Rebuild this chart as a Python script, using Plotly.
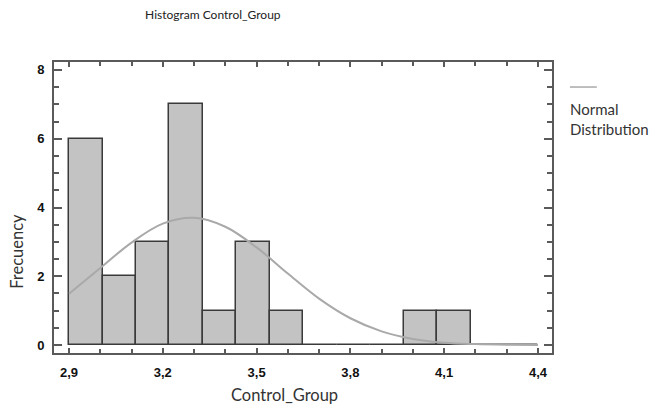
import plotly.graph_objects as go

# ---- data ----
bin_start = 2.9
bin_end = 4.4
n_bins = 14
counts = [6, 2, 3, 7, 1, 3, 1, 0, 0, 0, 1, 1, 0, 0]

curve_x = [2.9, 3.0, 3.1, 3.2, 3.3, 3.4, 3.5, 3.6, 3.7, 3.8, 3.9, 4.0, 4.1, 4.2, 4.3, 4.4]
curve_y = [1.49, 2.24, 2.98, 3.53, 3.70, 3.44, 2.84, 2.08, 1.35, 0.78, 0.40, 0.18, 0.07, 0.03, 0.01, 0.0]

x_tickvals = [2.9, 3.2, 3.5, 3.8, 4.1, 4.4]
x_ticktext = ["2,9", "3,2", "3,5", "3,8", "4,1", "4,4"]
y_tickvals = [0, 2, 4, 6, 8]
y_ticktext = ["0", "2", "4", "6", "8"]

bin_w = (bin_end - bin_start) / n_bins
left_edges = [bin_start + i * bin_w for i in range(n_bins)]

fig = go.Figure()
fig.add_trace(go.Bar(
    x=left_edges, y=counts, width=bin_w, offset=0,
    marker=dict(color="#c3c3c3", line=dict(color="#3a3a3a", width=1.5)),
    showlegend=False,
))
fig.add_trace(go.Scatter(
    x=curve_x, y=curve_y, mode="lines",
    line=dict(color="#a9a9a9", width=2, shape="spline"),
    showlegend=False,
))

tickfont = dict(family="Liberation Sans Narrow, Arial Narrow, Arial", size=13, color="#111", weight="bold")
axis_common = dict(
    showgrid=False, zeroline=False, showline=True, linecolor="#5a5a5a", linewidth=2,
    mirror="allticks", ticks="inside", tickcolor="#5a5a5a", tickwidth=1.5,
    tickfont=tickfont, tickmode="array",
)

fig.update_xaxes(
    range=[2.852, 4.445], tickvals=x_tickvals, ticktext=x_ticktext, ticklen=5,
    ticklabelstandoff=6,
    minor=dict(ticks="inside", ticklen=4, tickcolor="#5a5a5a", tick0=2.9, dtick=0.1),
    **axis_common,
)
fig.update_yaxes(
    range=[-0.23, 8.23], tickvals=y_tickvals, ticktext=y_ticktext, ticklen=8,
    ticklabelstandoff=5,
    minor=dict(ticks="inside", ticklen=5, tickcolor="#5a5a5a", tick0=0, dtick=0.5),
    **axis_common,
)

txt_font = dict(family="Lato", size=16.5, color="#333")
leg_font = dict(family="Lato", size=15, color="#333")

fig.update_layout(
    width=661, height=406,
    margin=dict(l=54, r=109, t=62, b=53),
    paper_bgcolor="white", plot_bgcolor="white",
    bargap=0,
    title=dict(text="Histogram Control_Group", x=0.322, xanchor="center",
               y=0.963, yanchor="middle", xref="container", yref="container",
               font=dict(family="Lato", size=12, color="#222")),
    annotations=[
        dict(text="Control_Group", xref="paper", yref="paper", x=0.462, y=-0.144,
             xanchor="center", yanchor="middle", showarrow=False, font=txt_font),
        dict(text="Frecuency", xref="paper", yref="paper", x=-0.0743, y=0.351,
             xanchor="center", yanchor="middle", textangle=-90, showarrow=False,
             font=txt_font),
        dict(text="Normal", xref="paper", yref="paper", x=1.032, y=0.840,
             xanchor="left", yanchor="middle", align="left", showarrow=False,
             font=leg_font),
        dict(text="Distribution", xref="paper", yref="paper", x=1.032, y=0.771,
             xanchor="left", yanchor="middle", align="left", showarrow=False,
             font=leg_font),
    ],
    shapes=[
        dict(type="line", xref="paper", yref="paper", x0=1.036, x1=1.090, y0=0.914, y1=0.914,
             line=dict(color="#a9a9a9", width=1.5)),
    ],
)

fig.write_html("out.html")
